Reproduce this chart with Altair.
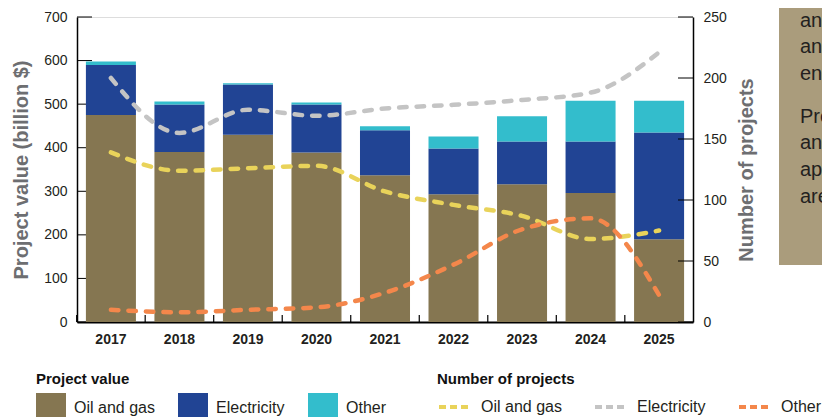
import altair as alt
import pandas as pd

years = ['2017', '2018', '2019', '2020', '2021', '2022', '2023', '2024', '2025']
categories = ['Oil and gas', 'Electricity', 'Other']

# Project value (billion $)
value_oil_gas = [475, 390, 430, 389, 337, 293, 316, 296, 190]
value_electricity = [115, 109, 115, 110, 103, 105, 98, 118, 245]
value_other = [8, 7, 3, 5, 9, 28, 58, 94, 73]

# Number of projects
count_oil_gas = [139, 124, 126, 128, 107, 96, 87, 68, 75]
count_electricity = [200, 155, 174, 169, 175, 178, 182, 188, 221]
count_other = [10, 8, 10, 12, 24, 47, 76, 85, 22]

left_ticks = [0, 100, 200, 300, 400, 500, 600, 700]
right_ticks = [0, 50, 100, 150, 200, 250]

bar_colors = ['#857651', '#214494', '#33bdcc']
line_colors = ['#e9d35a', '#c4c4c4', '#f4874b']

sidebar_par1 = ['an', 'an', 'en']
sidebar_par2 = ['Pro', 'an', 'ap', 'are']

FONT = 'Liberation Sans, Arial, Helvetica, sans-serif'
W, H = 616, 305
STEP = W / (len(years) - 0.27 + 2 * 0.13)

bar_rows = []
for i, y in enumerate(years):
    for k, (cat, vals) in enumerate(zip(categories, [value_oil_gas, value_electricity, value_other])):
        bar_rows.append({'year': y, 'category': cat, 'value': vals[i], 'order': k})
bar_df = pd.DataFrame(bar_rows)

line_rows = []
for k, (cat, vals) in enumerate(zip(categories, [count_oil_gas, count_electricity, count_other])):
    for i, y in enumerate(years):
        line_rows.append({'year': y, 'series': cat, 'count': vals[i], 'order': k})
line_df = pd.DataFrame(line_rows)

xscale = alt.Scale(domain=years, paddingInner=0.27, paddingOuter=0.13)
yleft = alt.Scale(domain=[0, 700], nice=False, zero=True)
yright = alt.Scale(domain=[0, 250], nice=False, zero=True)

ltick = alt.Chart(pd.DataFrame({'v': left_ticks})).mark_rule(color='black', strokeWidth=1).encode(
    y=alt.Y('v:Q', scale=yleft, axis=None),
    x=alt.value(0), x2=alt.value(15),
)

bars = alt.Chart(bar_df).mark_bar().encode(
    x=alt.X('year:O', scale=xscale, title=None,
            axis=alt.Axis(labelAngle=0, ticks=False, domainColor='black', domainWidth=2,
                          labelFontWeight='bold', labelFontSize=14, labelPadding=10,
                          labelColor='#231f20', labelFont=FONT)),
    y=alt.Y('value:Q', stack='zero', scale=yleft,
            axis=alt.Axis(orient='left', values=left_ticks, ticks=False, grid=False,
                          domainColor='black', domainWidth=1.5, labelPadding=10,
                          labelFontSize=14, labelColor='#231f20', labelFont=FONT,
                          title='Project value (billion $)', titleFontSize=20,
                          titleColor='#6d6e71', titleFont=FONT, titleFontWeight='bold',
                          titlePadding=12)),
    fill=alt.Fill('category:N', scale=alt.Scale(domain=categories, range=bar_colors),
                  legend=alt.Legend(title='Project value', orient='none', legendX=-41, legendY=355,
                                    direction='horizontal', symbolType='square', symbolSize=900,
                                    symbolStrokeWidth=0, labelFontSize=16, labelFont=FONT,
                                    labelColor='#231f20', titleFontSize=15, titleFont=FONT,
                                    titleColor='#111', titleFontWeight='bold', columnPadding=23,
                                    labelOffset=8, titlePadding=6, padding=0)),
    order=alt.Order('order:Q', sort='ascending'),
)

xtick = alt.Chart(pd.DataFrame({'year': years})).mark_rule(
    color='black', strokeWidth=1.2, xOffset=-STEP / 2).encode(
    x=alt.X('year:O', scale=xscale, title=None),
    y=alt.value(H - 7), y2=alt.value(H),
)

rtick = alt.Chart(pd.DataFrame({'v': right_ticks})).mark_rule(color='black', strokeWidth=1).encode(
    y=alt.Y('v:Q', scale=yright, axis=None),
    x=alt.value(W - 15), x2=alt.value(W),
)

lines = alt.Chart(line_df).mark_line(interpolate='monotone', strokeWidth=4.5,
                                     strokeDash=[7.5, 10], strokeCap='round').encode(
    x=alt.X('year:O', scale=xscale, title=None),
    y=alt.Y('count:Q', scale=yright,
            axis=alt.Axis(orient='right', values=right_ticks, ticks=False, grid=False,
                          domainColor='black', domainWidth=1.5, labelPadding=10,
                          labelFontSize=14, labelColor='#231f20', labelFont=FONT,
                          title='Number of projects', titleFontSize=20, titleAngle=270,
                          titleBaseline='top',
                          titleColor='#6d6e71', titleFont=FONT, titleFontWeight='bold',
                          titlePadding=10)),
    stroke=alt.Stroke('series:N', scale=alt.Scale(domain=categories, range=line_colors),
                      legend=alt.Legend(title='Number of projects', orient='none', legendX=360,
                                        legendY=355, direction='horizontal', symbolType='stroke',
                                        symbolSize=1024, symbolStrokeWidth=4, symbolDash=[7, 4],
                                        labelFontSize=16, labelFont=FONT, labelColor='#231f20',
                                        titleFontSize=15, titleFont=FONT, titleColor='#111',
                                        titleFontWeight='bold', columnPadding=25, labelOffset=8,
                                        titlePadding=2, padding=0)),
    order=alt.Order('order:Q'),
)

one = pd.DataFrame({'k': [0]})
box = alt.Chart(one).mark_rect(color='#aa9c7c').encode(
    x=alt.value(702), x2=alt.value(760), y=alt.value(-10), y2=alt.value(248),
)
text1 = alt.Chart(one).mark_text(text=sidebar_par1, align='left', baseline='alphabetic',
                                 fontSize=20, lineHeight=26.7, font=FONT, color='#231f20').encode(
    x=alt.value(723), y=alt.value(9.7),
)
text2 = alt.Chart(one).mark_text(text=sidebar_par2, align='left', baseline='alphabetic',
                                 fontSize=20, lineHeight=26.7, font=FONT, color='#231f20').encode(
    x=alt.value(723), y=alt.value(105.7),
)

chart = alt.layer(ltick, bars, xtick, rtick, lines, box, text1, text2).resolve_scale(
    y='independent', fill='independent', stroke='independent'
).properties(
    width=W, height=H,
    autosize=alt.AutoSizeParams(type='none'),
    padding={'left': 69, 'top': 9, 'right': 129, 'bottom': 95},
).configure_view(stroke=None).configure(background='white')

chart.save('out.html', embed_options={'renderer': 'svg', 'actions': False})
